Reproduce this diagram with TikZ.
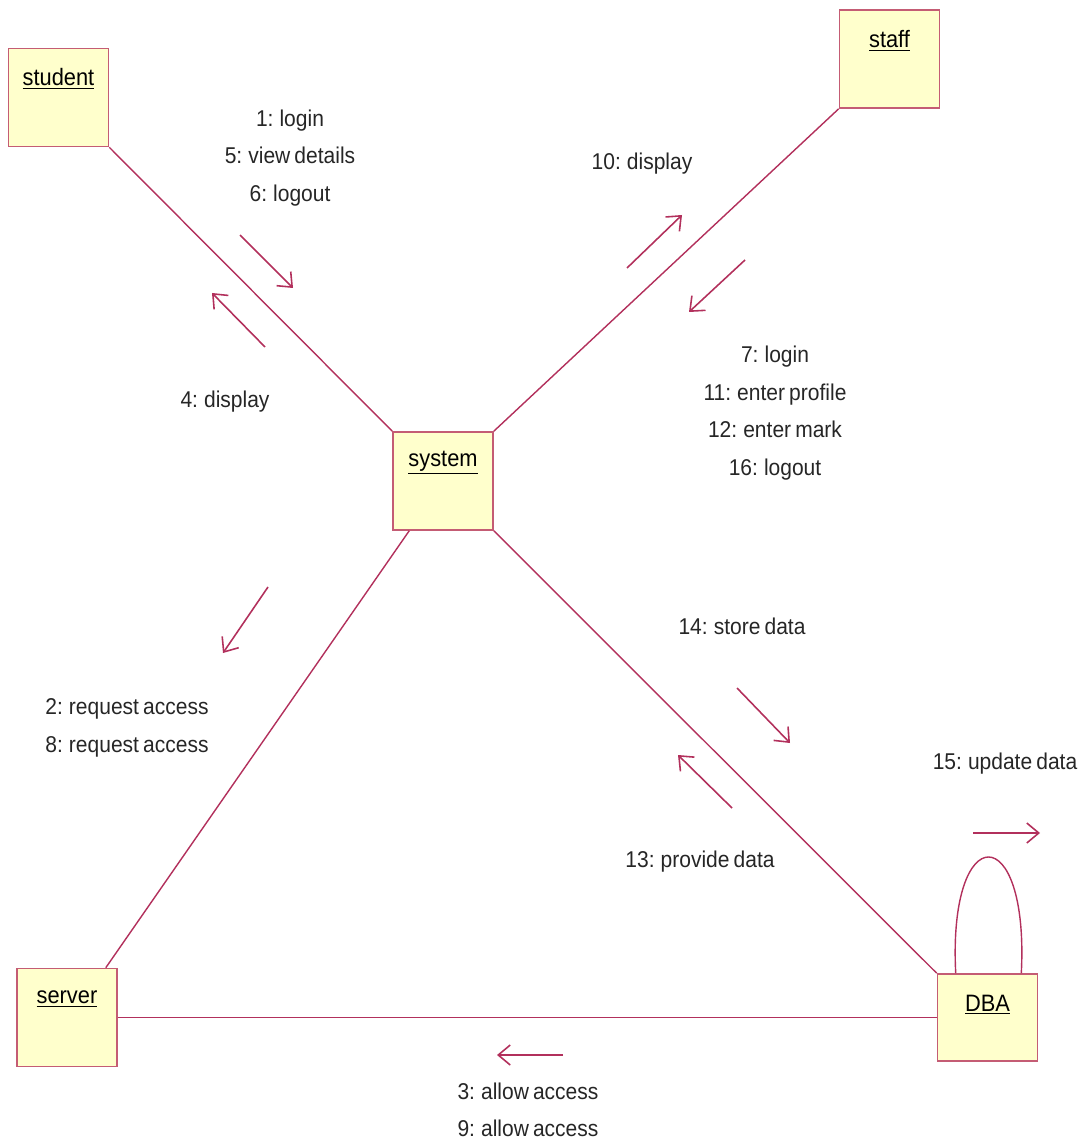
\documentclass[tikz,border=0pt]{standalone}
\usepackage{fontspec}
\setmainfont{Liberation Sans}[FakeStretch=0.92, WordSpace=0.7]
\usetikzlibrary{arrows.meta,calc}
\definecolor{linkcol}{RGB}{178,48,92}
\definecolor{boxline}{RGB}{196,92,116}
\definecolor{boxfill}{RGB}{255,255,204}

\begin{document}
\begin{tikzpicture}[
      x=0.02cm, y=-0.02cm,
      font=\fontsize{13}{21.3}\selectfont,
      obj/.style={draw=boxline, fill=boxfill, line width=0.9pt, minimum width=2cm,
                  minimum height=1.96cm, inner sep=0pt},
      objname/.style={anchor=center, yshift=-0.63cm, inner sep=0pt,
                      font=\fontsize{13.5}{16}\selectfont},
      link/.style={draw=linkcol, line width=0.8pt},
      msg/.style={draw=linkcol, line width=0.9pt, -{Straight Barb[length=2.4mm, width=4mm]}},
      lbl/.style={align=center, inner sep=0pt, yshift=-0.04cm, text=black!85}
    ]
    \useasboundingbox (0,0) rectangle (1084,1141);

    % objects
    \node[obj, label={[objname]north:\underline{student}}] (student) at (58.5,97.5) {};
    \node[obj, label={[objname]north:\underline{staff}}]   (staff)   at (889.5,59) {};
    \node[obj, label={[objname]north:\underline{system}}]  (system)  at (443,481) {};
    \node[obj, label={[objname]north:\underline{server}}]  (server)  at (67,1017.5) {};
    \node[obj, minimum height=1.74cm,
          label={[objname]north:\underline{DBA}}]          (dba)     at (987.5,1017.5) {};

    % links
    \draw[link] (student.south east) -- (system.north west);
    \draw[link] (staff.south west) -- (system.north east);
    \draw[link] ([xshift=0.34cm]system.south west) -- ([xshift=-0.24cm]server.north east);
    \draw[link] (system.south east) -- (dba.north west);
    \draw[link] (server.east) -- (dba.west);
    \draw[link] ([xshift=0.38cm]dba.north west) .. controls +(-0.16cm,3.1cm) and +(0.16cm,3.1cm)
                .. ([xshift=-0.34cm]dba.north east);

    % messages
    \draw[msg] (240,235) -- (293,288);
    \draw[msg] (265,347) -- (212,293);
    \node[lbl] (m1) at (290,156) {1: login\\5: view details\\6: logout};
    \node[lbl] (m4) at (225,400) {4: display};

    \draw[msg] (627,268) -- (682,215);
    \draw[msg] (745,260) -- (689,312);
    \node[lbl] (m10) at (642,162) {10: display};
    \node[lbl] (m7) at (775,411) {7: login\\11: enter profile\\12: enter mark\\16: logout};

    \draw[msg] (268,587) -- (223,653);
    \node[lbl] (m2) at (127,726) {2: request access\\8: request access};

    \draw[msg] (737,688) -- (790,743);
    \draw[msg] (732,808) -- (678,755);
    \node[lbl] (m14) at (742,624) {14: store data};
    \node[lbl] (m13) at (700,860) {13: provide data};

    \draw[msg] (973,833) -- (1040,833);
    \node[lbl] (m15) at (1005,762) {15: update data};

    \draw[msg] (563,1055) -- (497,1055);
    \node[lbl] (m3) at (528,1108) {3: allow access\\9: allow access};
  \end{tikzpicture}
\end{document}
